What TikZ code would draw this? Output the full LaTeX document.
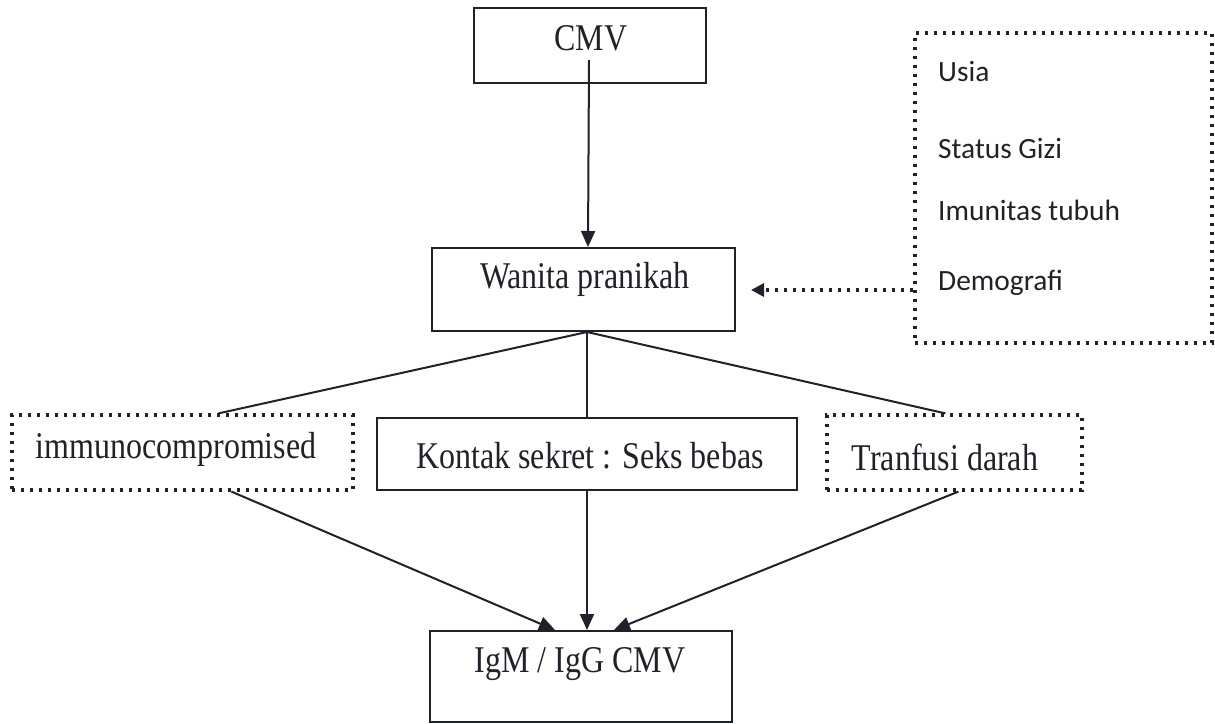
\documentclass[tikz,border=0pt]{standalone}
\usepackage{fontspec}
\setmainfont{Liberation Serif}
\newfontfamily\calfont{Carlito}
\usetikzlibrary{arrows.meta}
\definecolor{ink}{rgb}{0.12,0.13,0.17}
\definecolor{txt}{rgb}{0.13,0.13,0.16}
\newcommand{\tall}[1]{\scalebox{1}[1.18]{#1}}
\tikzset{
  box/.style={draw=ink, line width=2pt, rectangle, inner sep=0pt},
  dotbox/.style={draw=ink, line width=3.2pt, dash pattern=on 3.2pt off 5.8pt, rectangle, inner sep=0pt},
  lbl/.style={font=\fontsize{32}{38}\selectfont, text=txt, anchor=base, inner sep=0pt},
  flbl/.style={font=\calfont\fontsize{29.4}{35}\selectfont, text=txt, anchor=base west, inner sep=0pt},
  ln/.style={draw=ink, line width=2pt},
  arr/.style={ln, -{Triangle[length=16pt,width=14pt]}},
  darr/.style={draw=ink, line width=3.2pt, dash pattern=on 3.2pt off 5.8pt, -{Triangle[length=13pt,width=13pt]}}
}
\begin{document}
\begin{tikzpicture}[x=1pt,y=-1pt]
\useasboundingbox (0,0) rectangle (1215,723);
% boxes
\node[box, minimum width=232pt, minimum height=75pt] (cmv) at (590,45.5) {};
\node[box, minimum width=303pt, minimum height=83pt] (wan) at (583.5,289.5) {};
\node[dotbox, minimum width=341pt, minimum height=75pt] (imm) at (182.5,452.5) {};
\node[box, minimum width=420pt, minimum height=72pt] (kon) at (587,454) {};
\node[dotbox, minimum width=255pt, minimum height=75pt] (tra) at (954.5,452.5) {};
\node[box, minimum width=302pt, minimum height=91pt] (igm) at (581,676.5) {};
\node[dotbox, minimum width=297pt, minimum height=310pt] (fac) at (1063.5,188) {};
% texts
\node[lbl] (tcmv) at (591,50) {\tall{CMV}};
\node[lbl] (twan) at (585,288) {\tall{Wanita pranikah}};
\node[lbl] (timm) at (176,458) {\tall{immunocompromised}};
\node[lbl] (tkon) at (590,468) {\tall{Kontak sekret : Seks bebas}};
\node[lbl] (ttra) at (945,470) {\tall{Tranfusi darah}};
\node[lbl] (tigm) at (580,672) {\tall{IgM / IgG CMV}};
\node[flbl] (f1) at (938,81) {Usia};
\node[flbl] (f2) at (938,158) {Status Gizi};
\node[flbl] (f3) at (938,220) {Imunitas tubuh};
\node[flbl] (f4) at (938,290) {Demografi};
% connectors
\draw[arr] ([xshift=-1pt,yshift=-14.5pt]cmv.center) -- ([xshift=157pt]wan.north west);
\draw[darr] ([yshift=-102pt]fac.west) -- ([xshift=15pt,yshift=-0.5pt]wan.east);
\coordinate (fan) at ([xshift=156pt]wan.south west);
\draw[ln] (fan) -- ([xshift=208pt]imm.north west);
\draw[ln] (fan) -- ([xshift=211pt]kon.north west);
\draw[ln] (fan) -- ([xshift=120pt]tra.north west);
\draw[arr] ([xshift=221pt]imm.south west) -- ([xshift=126pt]igm.north west);
\draw[arr] ([xshift=211pt]kon.south west) -- ([xshift=158pt]igm.north west);
\draw[arr] ([xshift=133pt]tra.south west) -- ([xshift=185pt]igm.north west);
\end{tikzpicture}
\end{document}
